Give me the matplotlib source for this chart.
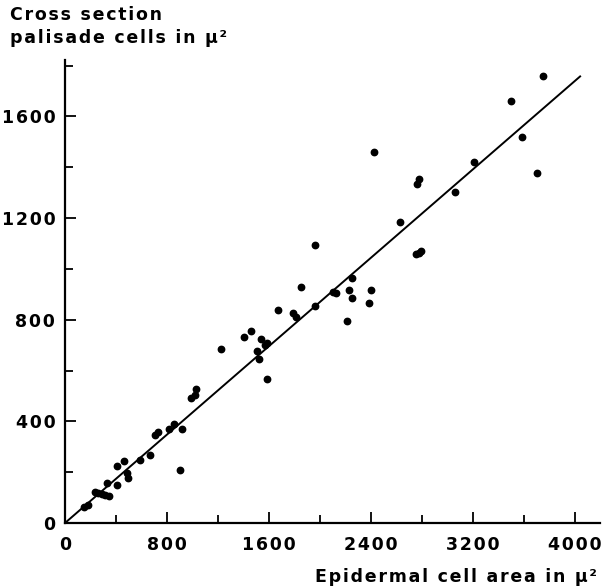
import matplotlib
matplotlib.use("Agg")
import matplotlib.pyplot as plt
from matplotlib.ticker import MultipleLocator, FuncFormatter

# epidermal cell area (x) vs cross section of palisade cells (y), both in mu^2
epidermal = [150, 180, 235, 262, 290, 315, 345, 327, 405, 405,
             463, 489, 497, 588, 667, 706, 732, 818, 855, 915,
             902, 992, 1020, 1030, 1221, 1406, 1459, 1535, 1569, 1582,
             1503, 1522, 1587, 1673, 1791, 1809, 1852, 1961, 1961, 2105,
             2125, 2248, 2230, 2248, 2214, 2397, 2387, 2426, 2627, 2758,
             2779, 2750, 2775, 2792, 3059, 3208, 3498, 3587, 3700, 3752]
palisade = [62, 72, 121, 117, 113, 110, 108, 156, 148, 226,
            245, 196, 176, 248, 268, 346, 359, 369, 388, 371,
            209, 491, 505, 528, 684, 731, 757, 726, 701, 710,
            677, 644, 566, 839, 828, 812, 930, 852, 1094, 911,
            907, 963, 915, 885, 796, 917, 867, 1459, 1186, 1335,
            1353, 1058, 1064, 1070, 1301, 1419, 1659, 1518, 1377, 1761]

# regression line through the origin
fit_x = [0, 4040]
fit_slope = 0.435

x_ticks = [0, 800, 1600, 2400, 3200, 4000]
y_ticks = [0, 400, 800, 1200, 1600]


def spaced(s):
    # old lettering is set wide, so put a hair space between letters
    return '\u200a'.join(s)


plt.rcParams['font.family'] = ['DejaVu Sans']

fig = plt.figure(figsize=(6.03, 5.87), dpi=100)
ax = fig.add_axes([65 / 603, 64 / 587, 535 / 603, 463 / 587])

ax.plot(fit_x, [v * fit_slope for v in fit_x], color='black', lw=1.4)
ax.plot(epidermal, palisade, 'o', color='black', ms=4.6, mec='black')

ax.set_xlim(0, 4196)
ax.set_ylim(0, 1822)
ax.set_xticks(x_ticks)
ax.set_yticks(y_ticks)
ax.xaxis.set_minor_locator(MultipleLocator(400))
ax.yaxis.set_minor_locator(MultipleLocator(200))
fmt = FuncFormatter(lambda v, pos: spaced(str(int(v))))
ax.xaxis.set_major_formatter(fmt)
ax.yaxis.set_major_formatter(fmt)

for side in ['top', 'right']:
    ax.spines[side].set_visible(False)
for side in ['left', 'bottom']:
    ax.spines[side].set_linewidth(1.6)

ax.tick_params(which='both', direction='in', width=1.3, labelsize=12.5)
ax.tick_params(which='major', length=8)
ax.tick_params(which='minor', length=6)
ax.tick_params(axis='x', pad=9)
ax.tick_params(axis='y', pad=7)
for lab in ax.get_xticklabels() + ax.get_yticklabels():
    lab.set_fontweight('bold')

fig.text(10 / 603, 1 - 6 / 587,
         spaced("Cross section") + "\n" + spaced("palisade cells in μ²"),
         ha='left', va='top', fontsize=12.5, fontweight='bold', linespacing=1.35)
fig.text(597 / 603, 5 / 587, spaced("Epidermal cell area in μ²"),
         ha='right', va='baseline', fontsize=12.5, fontweight='bold')

fig.savefig("out.png", dpi=100)
